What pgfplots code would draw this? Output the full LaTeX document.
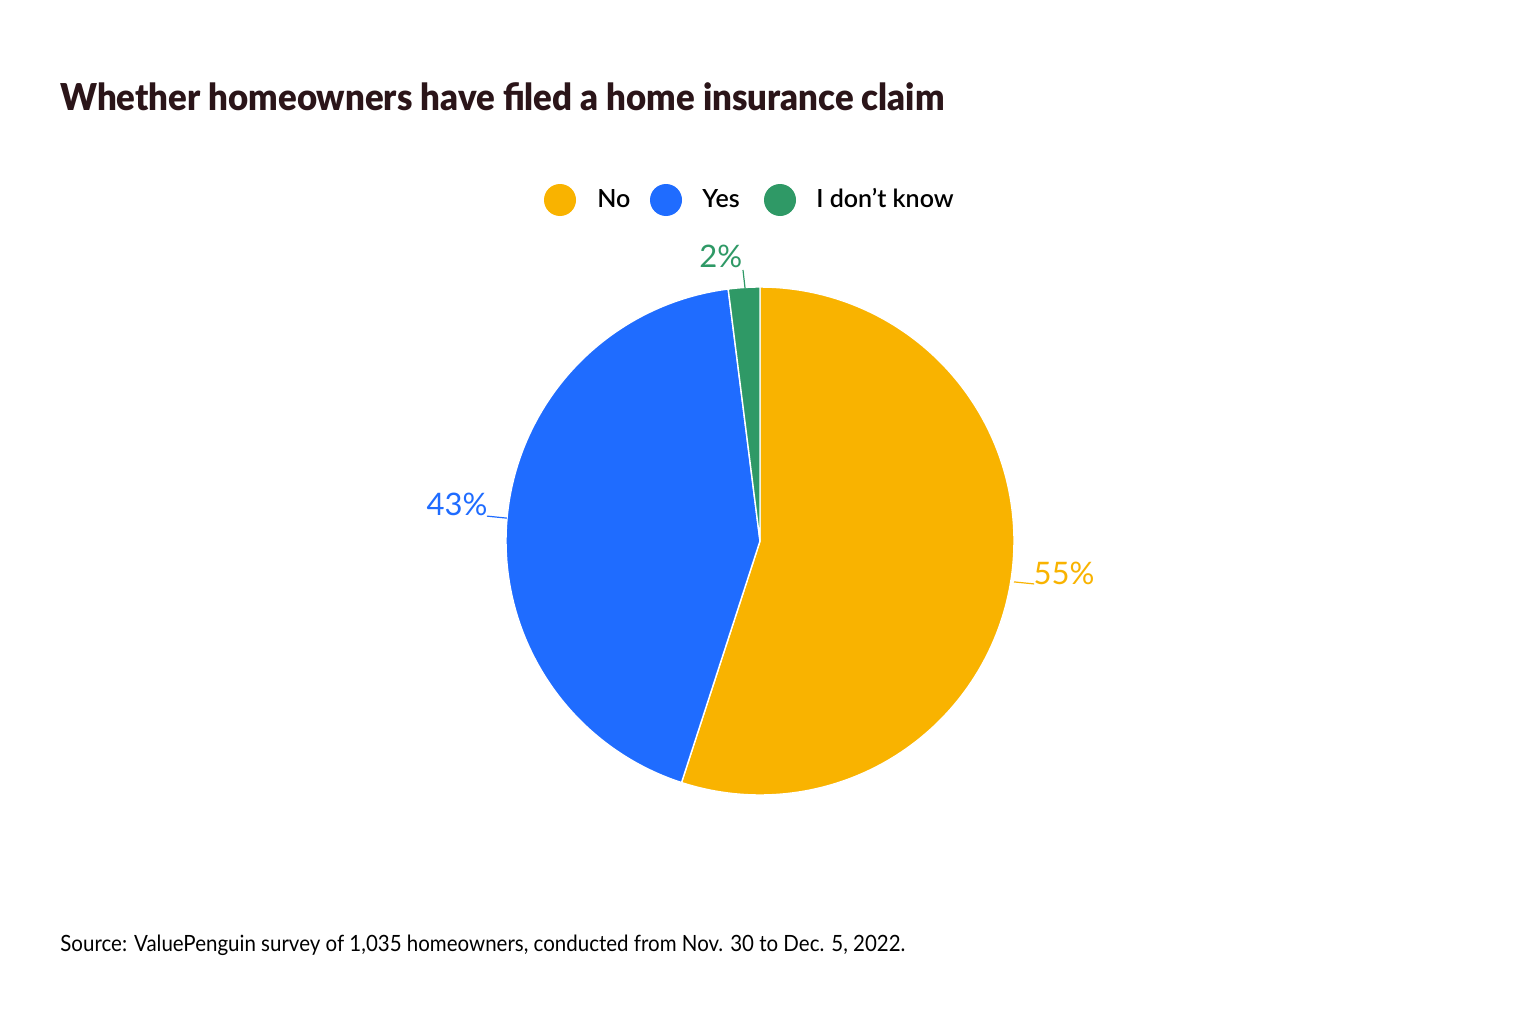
\documentclass[border=0pt]{standalone}
\usepackage{pgfplots}
\pgfplotsset{compat=1.18}
\usepackage{fontspec}
\setmainfont{Lato}
\newfontfamily\titlefont{Lato Black}
\newfontfamily\medfont{Lato Semibold}

\definecolor{cno}{HTML}{F9B300}
\definecolor{cyes}{HTML}{1F6CFF}
\definecolor{cdk}{HTML}{2F9966}
\definecolor{ctitle}{HTML}{2B1519}

% survey shares, percent
\def\No{55}
\def\Yes{43}
\def\Dk{2}

\begin{document}
\begin{tikzpicture}
% page frame and texts, in pixels of the reference
\begin{scope}[x=0.5pt,y=-0.5pt]
  \fill[white] (0,0) rectangle (1520,1022);
  \path[use as bounding box] (0,0) rectangle (1520,1022);
  \node[anchor=base west,inner sep=0pt,text=ctitle,font=\fontsize{18.5}{20}\titlefont]
    at (60,111) {\scalebox{0.94}[1]{Whether homeowners have filed a home insurance claim}};
  \fill[cno]  (560,200) circle[radius=16];
  \fill[cyes] (666,200) circle[radius=16];
  \fill[cdk]  (780,200) circle[radius=16];
  \begin{scope}[every node/.style={anchor=base west,inner sep=0pt,font=\fontsize{12.5}{14}\medfont}]
    \node at (597,207) {No};
    \node at (702,207) {Yes};
    \node at (816,207) {I don’t know};
  \end{scope}
  \node[anchor=base west,inner sep=0pt,font=\fontsize{11.2}{13}\selectfont]
    at (60,951) {\scalebox{0.915}[1]{Source: ValuePenguin survey of 1,035 homeowners, conducted from Nov. 30 to Dec. 5, 2022.}};
\end{scope}

\begin{axis}[
  at={(380pt,-270.5pt)}, anchor=center,
  width=254pt, height=254pt, scale only axis,
  xmin=-1, xmax=1, ymin=-1, ymax=1,
  hide axis, clip=false,
  samples=150,
]
  % slices run clockwise from the top
  \addplot[fill=cno, draw=white, line width=0.7pt, domain={90-3.6*\No}:90]
    ({cos(x)},{sin(x)}) -- (0,0) -- cycle;
  \addplot[fill=cyes, draw=white, line width=0.7pt, domain={90-3.6*(\No+\Yes)}:{90-3.6*\No}]
    ({cos(x)},{sin(x)}) -- (0,0) -- cycle;
  \addplot[fill=cdk, draw=white, line width=0.7pt, domain={-270}:{90-3.6*(\No+\Yes)}]
    ({cos(x)},{sin(x)}) -- (0,0) -- cycle;
  % leader lines
  \addplot[cno, line width=0.6pt] coordinates {(1.0,-0.161) (1.079,-0.169)};
  \addplot[cyes, line width=0.6pt] coordinates {(-1.075,0.098) (-0.996,0.090)};
  \addplot[cdk, line width=0.6pt] coordinates {(-0.059,0.996) (-0.067,1.067)};
  \node[text=cno,anchor=base,inner sep=0pt,font=\fontsize{15.5}{16}\selectfont]  at (axis cs:1.197,-0.173) {55\%};
  \node[text=cyes,anchor=base,inner sep=0pt,font=\fontsize{15.5}{16}\selectfont] at (axis cs:-1.193,0.102) {43\%};
  \node[text=cdk,anchor=base,inner sep=0pt,font=\fontsize{15.5}{16}\selectfont]  at (axis cs:-0.154,1.075) {2\%};
\end{axis}
\end{tikzpicture}
\end{document}
